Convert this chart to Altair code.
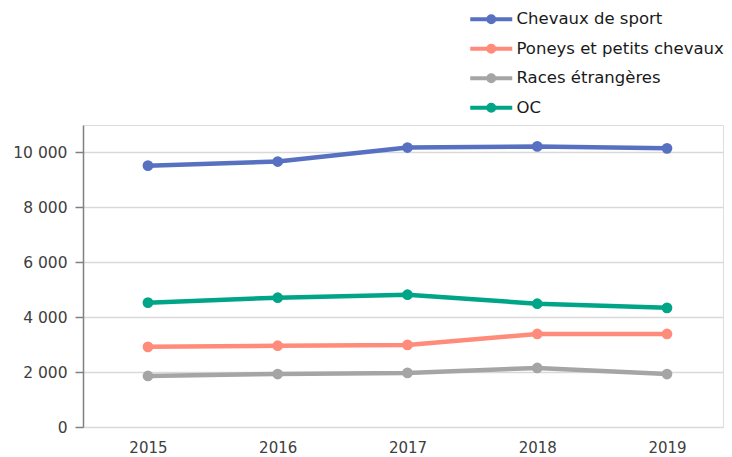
import altair as alt
import pandas as pd

years = ["2015", "2016", "2017", "2018", "2019"]
series = ["Chevaux de sport", "Poneys et petits chevaux", "Races étrangères", "OC"]
chevaux_sport = [9520, 9670, 10180, 10220, 10150]
poneys = [2920, 2960, 2990, 3390, 3390]
races_etrangeres = [1860, 1930, 1970, 2150, 1930]
oc = [4530, 4710, 4820, 4490, 4340]
colors = ["#5770c2", "#ff8b7b", "#a5a5a5", "#00a587"]

values = [chevaux_sport, poneys, races_etrangeres, oc]
rows = []
for s, vals in zip(series, values):
    for y, v in zip(years, vals):
        rows.append({"Année": y, "Série": s, "Valeur": v})
df = pd.DataFrame(rows)

FONT = "DejaVu Sans"
# line + dot legend glyph (unit coords, scaled by sqrt(size)/2)
legend_symbol = "M-4.2,0H4.2M-0.6,0a0.6,0.6 0 1,0 1.2,0a0.6,0.6 0 1,0 -1.2,0"

color = alt.Color(
    "Série:N",
    scale=alt.Scale(domain=series, range=colors),
    sort=series,
    legend=alt.Legend(
        title=None,
        orient="none",
        legendX=400,
        legendY=-114,
        symbolType=legend_symbol,
        symbolSize=100,
        symbolStrokeWidth=4,
        labelFontSize=16.5,
        labelFont=FONT,
        labelColor="#1a1a1a",
        rowPadding=6.5,
        labelOffset=17,
        labelLimit=300,
    ),
)

base = alt.Chart(df).encode(
    x=alt.X(
        "Année:O",
        scale=alt.Scale(type="point", padding=0.466, align=0.537),
        axis=alt.Axis(
            title=None,
            domain=False,
            ticks=False,
            labelAngle=0,
            labelFontSize=15,
            labelFont=FONT,
            labelColor="#404040",
            labelPadding=13,
        ),
    ),
    y=alt.Y(
        "Valeur:Q",
        scale=alt.Scale(domain=[0, 11000], nice=False),
        axis=alt.Axis(
            title=None,
            values=[0, 2000, 4000, 6000, 8000, 10000],
            labelExpr="replace(format(datum.value, ','), ',', ' ')",
            domainColor="#808080",
            domainWidth=1.5,
            tickColor="#808080",
            tickSize=8,
            tickWidth=1.5,
            gridColor="#d9d9d9",
            gridWidth=1.5,
            labelFontSize=15.5,
            labelFont=FONT,
            labelColor="#404040",
            labelPadding=8,
        ),
    ),
    color=color,
)

lines = base.mark_line(strokeWidth=4.5, interpolate="linear")
points = base.mark_circle(size=115, opacity=1)

chart = (
    alt.layer(lines, points)
    .properties(width=640, height=302, padding={"left": 4, "top": 3, "right": 0, "bottom": 0})
    .configure_view(stroke=None)
    .configure(font=FONT)
)

chart.save("out.html", embed_options={"renderer": "svg", "actions": False})
